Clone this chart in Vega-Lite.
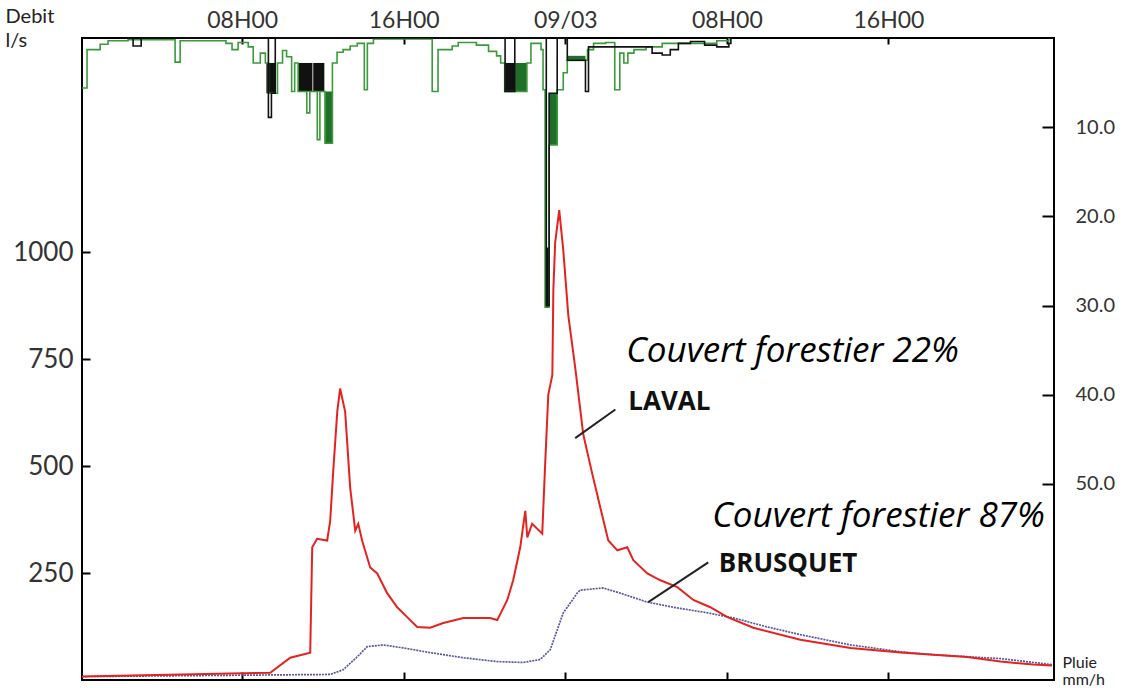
{
  "$schema": "https://vega.github.io/schema/vega-lite/v6.json",
  "width": 972,
  "height": 642,
  "autosize": {"type": "none"},
  "padding": {"left": 82, "top": 38, "right": 72, "bottom": 8},
  "background": "white",
  "config": {
    "view": {"stroke": "black", "strokeWidth": 2},
    "axis": {"labelFont": "Lato", "titleFont": "Lato", "labelColor": "#333", "titleColor": "#222", "tickColor": "black", "grid": false, "domain": false}
  },
  "datasets": {
    "laval": [
      {"h": 0.07, "d": 8}, {"h": 7.41, "d": 15}, {"h": 9.39, "d": 17}, {"h": 10.38, "d": 52}, {"h": 11.37, "d": 64},
      {"h": 11.47, "d": 310}, {"h": 11.71, "d": 330}, {"h": 12.21, "d": 326}, {"h": 12.36, "d": 372}, {"h": 12.51, "d": 488},
      {"h": 12.71, "d": 627}, {"h": 12.85, "d": 681}, {"h": 13.1, "d": 627}, {"h": 13.35, "d": 449}, {"h": 13.6, "d": 349},
      {"h": 13.75, "d": 365}, {"h": 13.94, "d": 326}, {"h": 14.34, "d": 263}, {"h": 14.69, "d": 249}, {"h": 15.18, "d": 203},
      {"h": 15.68, "d": 170}, {"h": 16.17, "d": 147}, {"h": 16.67, "d": 124}, {"h": 17.31, "d": 122}, {"h": 17.96, "d": 133},
      {"h": 18.95, "d": 145}, {"h": 20.28, "d": 145}, {"h": 20.63, "d": 140}, {"h": 21.13, "d": 187}, {"h": 21.42, "d": 233},
      {"h": 21.77, "d": 310}, {"h": 22.02, "d": 395}, {"h": 22.12, "d": 333}, {"h": 22.36, "d": 365}, {"h": 22.86, "d": 342},
      {"h": 23.01, "d": 511}, {"h": 23.16, "d": 667}, {"h": 23.36, "d": 713}, {"h": 23.41, "d": 913}, {"h": 23.5, "d": 1022},
      {"h": 23.7, "d": 1098}, {"h": 23.9, "d": 1005}, {"h": 24.15, "d": 852}, {"h": 24.5, "d": 727}, {"h": 24.89, "d": 574},
      {"h": 25.34, "d": 481}, {"h": 25.74, "d": 402}, {"h": 26.13, "d": 326}, {"h": 26.58, "d": 303}, {"h": 27.07, "d": 310},
      {"h": 27.37, "d": 280}, {"h": 28.06, "d": 249}, {"h": 28.71, "d": 233}, {"h": 29.55, "d": 217}, {"h": 30.34, "d": 187},
      {"h": 31.18, "d": 170}, {"h": 32.03, "d": 147}, {"h": 33.31, "d": 122}, {"h": 35.64, "d": 94}, {"h": 38.12, "d": 75},
      {"h": 40.6, "d": 64}, {"h": 42.23, "d": 59}, {"h": 43.91, "d": 54}, {"h": 45.55, "d": 43}, {"h": 47.18, "d": 36}, {"h": 48.1, "d": 34}
    ],
    "brusquet": [
      {"h": 0.07, "d": 8}, {"h": 12.36, "d": 13}, {"h": 13.0, "d": 24}, {"h": 13.7, "d": 54}, {"h": 14.19, "d": 78},
      {"h": 14.98, "d": 82}, {"h": 15.97, "d": 75}, {"h": 17.31, "d": 64}, {"h": 18.95, "d": 52}, {"h": 20.63, "d": 43},
      {"h": 21.92, "d": 41}, {"h": 22.76, "d": 48}, {"h": 23.26, "d": 71}, {"h": 23.6, "d": 117}, {"h": 23.9, "d": 157},
      {"h": 24.1, "d": 170}, {"h": 24.59, "d": 203}, {"h": 24.74, "d": 210}, {"h": 25.88, "d": 215}, {"h": 26.72, "d": 203},
      {"h": 28.06, "d": 182}, {"h": 29.35, "d": 170}, {"h": 31.03, "d": 157}, {"h": 32.32, "d": 145}, {"h": 34.0, "d": 124},
      {"h": 35.64, "d": 106}, {"h": 38.12, "d": 82}, {"h": 40.6, "d": 66}, {"h": 42.23, "d": 59}, {"h": 45.55, "d": 50}, {"h": 48.1, "d": 36}
    ],
    "rainGreen": [
      {"h": 0.07, "r": 5.6}, {"h": 0.32, "r": 1.3}, {"h": 0.97, "r": 0.7}, {"h": 1.36, "r": 0.3}, {"h": 2.35, "r": 0.2},
      {"h": 4.68, "r": 2.7}, {"h": 4.93, "r": 0.3}, {"h": 7.2, "r": 0.6}, {"h": 7.5, "r": 1.3}, {"h": 7.8, "r": 0.5},
      {"h": 8.3, "r": 1.0}, {"h": 8.55, "r": 2.8}, {"h": 8.9, "r": 1.7}, {"h": 9.15, "r": 2.8}, {"h": 9.3, "r": 6.2},
      {"h": 9.75, "r": 2.8}, {"h": 10.0, "r": 1.4}, {"h": 10.2, "r": 2.1}, {"h": 10.45, "r": 6.0}, {"h": 10.6, "r": 2.8},
      {"h": 10.77, "r": 6.0}, {"h": 11.2, "r": 8.4}, {"h": 11.35, "r": 6.0}, {"h": 11.72, "r": 11.4}, {"h": 11.85, "r": 6.0},
      {"h": 12.1, "r": 11.8}, {"h": 12.47, "r": 2.8}, {"h": 12.7, "r": 1.6}, {"h": 13.0, "r": 1.3}, {"h": 13.35, "r": 0.9},
      {"h": 13.7, "r": 0.6}, {"h": 14.05, "r": 5.8}, {"h": 14.2, "r": 0.6}, {"h": 14.5, "r": 0.1}, {"h": 17.41, "r": 6.0},
      {"h": 17.7, "r": 1.3}, {"h": 18.4, "r": 0.9}, {"h": 18.7, "r": 0.5}, {"h": 19.6, "r": 0.8}, {"h": 20.2, "r": 1.5},
      {"h": 20.6, "r": 2.0}, {"h": 20.8, "r": 2.8}, {"h": 21.0, "r": 6.0}, {"h": 22.1, "r": 2.8}, {"h": 22.3, "r": 0.6},
      {"h": 22.8, "r": 1.3}, {"h": 22.9, "r": 5.8}, {"h": 23.0, "r": 30.2}, {"h": 23.2, "r": 12.0}, {"h": 23.6, "r": 5.8},
      {"h": 23.9, "r": 3.9}, {"h": 24.1, "r": 2.5}, {"h": 25.1, "r": 1.3}, {"h": 25.4, "r": 0.6}, {"h": 26.0, "r": 0.5},
      {"h": 26.45, "r": 5.8}, {"h": 26.7, "r": 1.7}, {"h": 26.9, "r": 2.8}, {"h": 27.1, "r": 1.7}, {"h": 27.4, "r": 1.3},
      {"h": 28.0, "r": 1.0}, {"h": 28.8, "r": 0.6}, {"h": 31.5, "r": 0.3}, {"h": 32.1, "r": 0.0}
    ],
    "rainBlack": [
      {"h": 2.35, "r": 0.0}, {"h": 2.6, "r": 0.9}, {"h": 3.0, "r": 0.0}, {"h": 9.2, "r": 0.0}, {"h": 9.3, "r": 8.9},
      {"h": 9.45, "r": 6.2}, {"h": 9.64, "r": 0.0}, {"h": 21.0, "r": 0.0}, {"h": 21.02, "r": 6.0}, {"h": 21.5, "r": 0.0},
      {"h": 23.05, "r": 0.0}, {"h": 23.06, "r": 30.0}, {"h": 23.2, "r": 6.2}, {"h": 23.6, "r": 0.0}, {"h": 24.1, "r": 2.5},
      {"h": 25.0, "r": 6.0}, {"h": 25.15, "r": 1.0}, {"h": 27.5, "r": 1.0}, {"h": 28.3, "r": 1.7}, {"h": 28.8, "r": 1.9},
      {"h": 29.2, "r": 1.3}, {"h": 29.6, "r": 0.6}, {"h": 30.2, "r": 0.4}, {"h": 30.9, "r": 0.8}, {"h": 31.5, "r": 1.0},
      {"h": 32.1, "r": 0.6}, {"h": 32.2, "r": 0.0}
    ],
    "blocks": [
      {"h1": 9.2, "h2": 9.64, "r1": 2.8, "r2": 6.2, "kind": "black"},
      {"h1": 10.78, "h2": 11.48, "r1": 2.8, "r2": 6.0, "kind": "black"},
      {"h1": 11.52, "h2": 12.07, "r1": 2.8, "r2": 6.0, "kind": "black"},
      {"h1": 12.11, "h2": 12.46, "r1": 6.0, "r2": 11.8, "kind": "green"},
      {"h1": 21.03, "h2": 21.52, "r1": 2.8, "r2": 6.0, "kind": "black"},
      {"h1": 21.52, "h2": 22.1, "r1": 2.8, "r2": 6.0, "kind": "green"},
      {"h1": 23.05, "h2": 23.2, "r1": 23.5, "r2": 30.2, "kind": "black"},
      {"h1": 23.2, "h2": 23.6, "r1": 6.2, "r2": 12.0, "kind": "green"},
      {"h1": 24.1, "h2": 25.0, "r1": 2.0, "r2": 2.6, "kind": "green"}
    ],
    "notes": [
      {"h": 27.02, "d": 768, "label": "Couvert forestier 22%", "kind": "italic"},
      {"h": 31.28, "d": 384, "label": "Couvert forestier 87%", "kind": "italic"},
      {"h": 27.12, "d": 650, "label": "LAVAL", "kind": "bold"},
      {"h": 31.6, "d": 272, "label": "BRUSQUET", "kind": "bold"}
    ],
    "leaders": [
      {"h": 24.49, "d": 565, "h2": 26.48, "d2": 632},
      {"h": 28.11, "d": 182, "h2": 31.08, "d2": 275}
    ]
  },
  "resolve": {"scale": {"y": "independent"}, "axis": {"y": "independent", "x": "independent"}},
  "layer": [
    {
      "layer": [
        {
          "data": {"name": "brusquet"},
          "mark": {"type": "line", "color": "#55559a", "strokeWidth": 1.7, "strokeDash": [2, 1]},
          "encoding": {
            "x": {"field": "h", "type": "quantitative", "scale": {"domain": [0.07, 48.2], "nice": false, "zero": false},
              "axis": {"orient": "top", "values": [8, 16, 24, 32, 40], "labelExpr": "datum.value == 24 ? '09/03' : (datum.value % 24 == 8 ? '08H00' : '16H00')", "tickSize": -6, "tickWidth": 2, "labelFontSize": 23, "labelPadding": 12, "title": null}},
            "y": {"field": "d", "type": "quantitative", "scale": {"domain": [0, 1500], "nice": false},
              "axis": {"orient": "left", "values": [250, 500, 750, 1000], "format": "d", "tickSize": -8, "tickWidth": 2, "labelFontSize": 26, "labelPadding": 17,
                "title": ["Debit", "l/s"], "titleAngle": 0, "titleAlign": "left", "titleBaseline": "top", "titleX": -77, "titleY": -32, "titleFontSize": 20, "titleFontWeight": "normal", "titleLineHeight": 24}}
          }
        },
        {
          "data": {"name": "laval"},
          "mark": {"type": "line", "color": "#e3231f", "strokeWidth": 2},
          "encoding": {"x": {"field": "h", "type": "quantitative"}, "y": {"field": "d", "type": "quantitative"}}
        },
        {
          "data": {"name": "leaders"},
          "mark": {"type": "rule", "color": "#222", "strokeWidth": 2},
          "encoding": {"x": {"field": "h", "type": "quantitative"}, "y": {"field": "d", "type": "quantitative"}, "x2": {"field": "h2"}, "y2": {"field": "d2"}}
        },
        {
          "data": {"name": "notes"},
          "transform": [{"filter": "datum.kind == 'italic'"}],
          "mark": {"type": "text", "align": "left", "baseline": "middle", "font": "Open Sans", "fontStyle": "italic", "fontSize": 35, "color": "black"},
          "encoding": {"x": {"field": "h", "type": "quantitative"}, "y": {"field": "d", "type": "quantitative"}, "text": {"field": "label"}}
        },
        {
          "data": {"name": "notes"},
          "transform": [{"filter": "datum.kind == 'bold'"}],
          "mark": {"type": "text", "align": "left", "baseline": "middle", "font": "Open Sans", "fontWeight": "bold", "fontSize": 26, "color": "#111"},
          "encoding": {"x": {"field": "h", "type": "quantitative"}, "y": {"field": "d", "type": "quantitative"}, "text": {"field": "label"}}
        }
      ]
    },
    {
      "layer": [
        {
          "data": {"name": "blocks"},
          "mark": {"type": "rect"},
          "encoding": {
            "x": {"field": "h1", "type": "quantitative", "scale": {"domain": [0.07, 48.2], "nice": false, "zero": false},
              "axis": {"orient": "bottom", "values": [8, 16, 24, 32, 40], "labels": false, "tickSize": -8, "tickWidth": 2, "title": null}},
            "x2": {"field": "h2"},
            "y": {"field": "r1", "type": "quantitative", "scale": {"domain": [0, 72], "nice": false, "reverse": true},
              "axis": {"orient": "right", "values": [10, 20, 30, 40, 50], "format": ".1f", "tickSize": -12, "tickWidth": 2, "labelFontSize": 20, "labelPadding": 33,
                "title": ["Pluie", "mm/h"], "titleAngle": 0, "titleAlign": "left", "titleBaseline": "top", "titleX": 8, "titleY": 616, "titleFontSize": 16, "titleFontWeight": "normal", "titleLineHeight": 17}},
            "y2": {"field": "r2"},
            "color": {"field": "kind", "type": "nominal", "scale": {"domain": ["black", "green"], "range": ["#111111", "#1f6e2a"]}, "legend": null}
          }
        },
        {
          "data": {"name": "rainGreen"},
          "mark": {"type": "line", "interpolate": "step-after", "color": "#3a9a3a", "strokeWidth": 1.6},
          "encoding": {"x": {"field": "h", "type": "quantitative"}, "y": {"field": "r", "type": "quantitative"}}
        },
        {
          "data": {"name": "rainBlack"},
          "mark": {"type": "line", "interpolate": "step-after", "color": "#111111", "strokeWidth": 1.6},
          "encoding": {"x": {"field": "h", "type": "quantitative"}, "y": {"field": "r", "type": "quantitative"}}
        }
      ]
    }
  ]
}
